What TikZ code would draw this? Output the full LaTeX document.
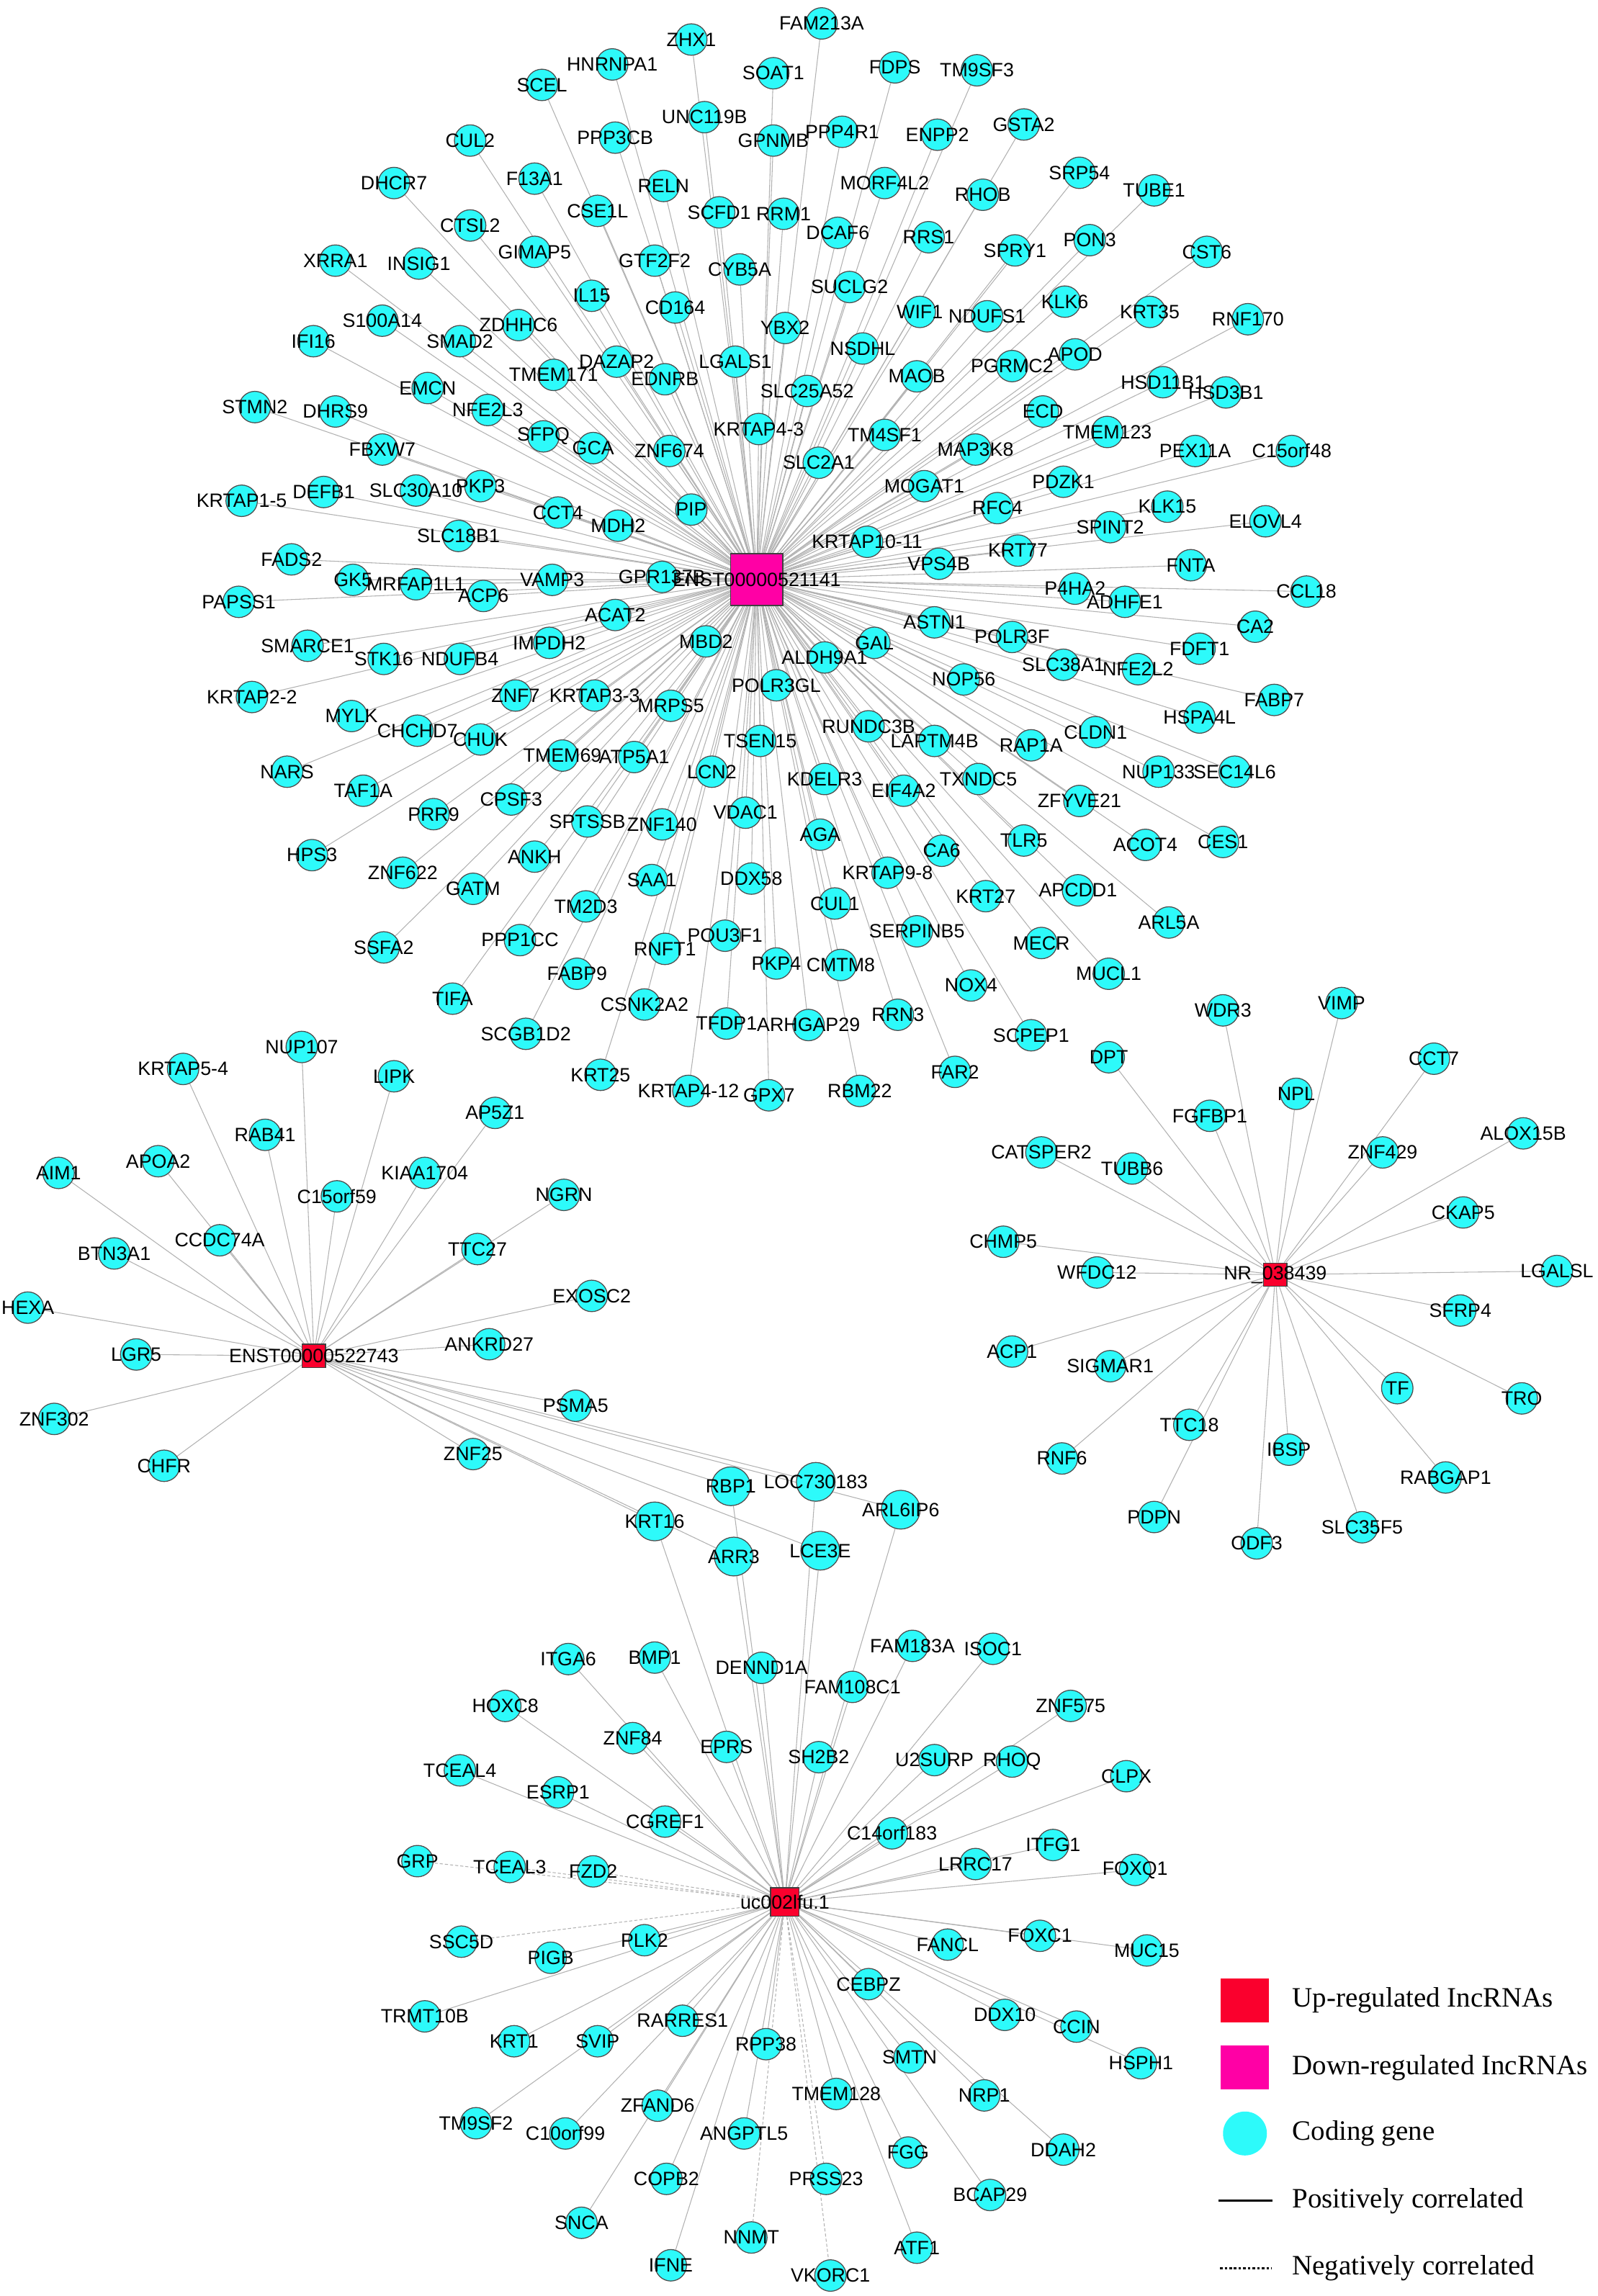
\documentclass[tikz,border=0pt]{standalone}
\usepackage{fontspec}
\setmainfont{Liberation Sans}
\newfontfamily\legendfont{Liberation Serif}
\usepackage{tikz}
\usetikzlibrary{backgrounds}
\definecolor{genecyan}{RGB}{45,250,250}
\definecolor{downpink}{RGB}{255,0,165}
\definecolor{upred}{RGB}{250,0,45}
\newcommand{\genefont}{\fontsize{7.5}{9}\selectfont}
\tikzset{
  genenode/.style={
    circle, draw=black!70, line width=0.35pt,
    fill=genecyan, minimum size=0.43cm, inner sep=0pt
  },
  sharednode/.style={genenode, minimum size=0.53cm},
  genelabel/.style={font=\genefont, text=black, inner sep=0pt},
  lncnode/.style={
    rectangle, draw=black!75, line width=0.35pt,
    fill=#1, inner sep=0pt
  },
  corrline/.style={draw=gray!60, line width=0.3pt},
  negline/.style={corrline, dash pattern=on 1.2pt off 0.8pt},
  legendtext/.style={
    font=\legendfont\fontsize{10.9}{13}\selectfont,
    anchor=west, inner sep=0pt
  },
}

\begin{document}
\begin{tikzpicture}[x=0.02cm, y=-0.02cm]
    \useasboundingbox (0,0) rectangle (1091,1568);

    % down-regulated hub and its partners
    \def\topgenes{ZHX1/472/27, HNRNPA1/418/44, SCEL/370/58, UNC119B/481/80,
      PPP3CB/420/94, CUL2/321/96, DHCR7/269/125, F13A1/365/122, RELN/453/127,
      CSE1L/408/144, SCFD1/491/145, CTSL2/321/154, GIMAP5/365/172,
      GTF2F2/447/178, CYB5A/505/184, XRRA1/229/178, INSIG1/286/180,
      IL15/404/202, CD164/461/210, S100A14/261/219, ZDHHC6/354/222,
      IFI16/214/233, SMAD2/314/233, DAZAP2/421/247, LGALS1/502/247,
      TMEM171/378/256, EDNRB/454/259, EMCN/292/265, STMN2/174/278,
      DHRS9/229/281, NFE2L3/333/280, SFPQ/371/298, GCA/405/306,
      ZNF674/457/308, KRTAP4-3/518/293, FBXW7/261/307, KRTAP1-5/165/342,
      DEFB1/221/336, SLC30A10/284/335, PKP3/328/332, CCT4/381/350,
      MDH2/422/359, PIP/472/348, SLC18B1/313/366, FADS2/199/382,
      FAM213A/561/16, SOAT1/528/50, FDPS/611/46, TM9SF3/667/48,
      GPNMB/528/96, PPP4R1/575/90, ENPP2/640/92, GSTA2/699/85,
      MORF4L2/604/125, RHOB/671/133, SRP54/737/118, TUBE1/788/130,
      RRM1/535/146, DCAF6/572/159, RRS1/634/162, SPRY1/693/171,
      PON3/744/164, CST6/824/172, SUCLG2/580/196, WIF1/628/213,
      NDUFS1/674/216, KLK6/727/206, KRT35/785/213, RNF170/852/218,
      YBX2/536/224, NSDHL/589/238, APOD/734/242, PGRMC2/691/250,
      MAOB/626/257, HSD11B1/794/261, HSD3B1/837/268, SLC25A52/551/267,
      ECD/712/281, TMEM123/756/295, TM4SF1/604/297, PEX11A/816/308,
      C15orf48/882/308, MAP3K8/666/307, SLC2A1/559/316, MOGAT1/631/332,
      PDZK1/726/329, RFC4/681/347, KLK15/797/346, ELOVL4/864/356,
      SPINT2/758/360, KRTAP10-11/592/370, KRT77/695/376, VPS4B/641/385,
      FNTA/813/386, VAMP3/377/396, GPR137B/452/394, GK5/241/396,
      MRFAP1L1/284/399, ACP6/330/407, PAPSS1/163/411, ACAT2/420/420,
      MBD2/482/438, SMARCE1/210/441, IMPDH2/375/439, STK16/262/450,
      NDUFB4/314/450, KRTAP2-2/172/476, ZNF7/352/475, KRTAP3-3/406/475,
      MRPS5/458/482, MYLK/240/489, CHCHD7/285/499, CHUK/328/505,
      TMEM69/384/516, ATP5A1/433/517, LCN2/486/527, NARS/196/527,
      TAF1A/248/540, PRR9/296/556, CPSF3/349/546, SPTSSB/401/561,
      ZNF140/452/563, VDAC1/509/555, HPS3/213/584, ZNF622/275/596,
      ANKH/365/585, GATM/323/607, SAA1/445/601, DDX58/513/600,
      TM2D3/400/619, SSFA2/262/647, PPP1CC/355/642, RNFT1/454/648,
      POU3F1/495/639, FABP9/394/665, TIFA/309/682, CSNK2A2/440/686,
      SCGB1D2/359/706, TFDP1/496/699, KRT25/410/734, KRTAP4-12/470/745,
      CCL18/892/404, P4HA2/734/402, ADHFE1/768/411, CA2/857/428,
      ASTN1/638/425, GAL/597/439, POLR3F/691/435, FDFT1/819/443,
      ALDH9A1/563/449, SLC38A1/726/454, NFE2L2/777/457, POLR3GL/530/468,
      NOP56/658/464, FABP7/870/478, HSPA4L/819/490, RUNDC3B/593/496,
      CLDN1/748/500, TSEN15/519/506, LAPTM4B/638/506, RAP1A/704/509,
      NUP133/791/527, SEC14L6/843/527, KDELR3/563/532, EIF4A2/617/540,
      TXNDC5/668/532, ZFYVE21/737/547, AGA/560/570, TLR5/699/574,
      ACOT4/782/577, CES1/835/575, CA6/643/581, KRTAP9-8/606/596,
      KRT27/673/612, APCDD1/736/608, CUL1/570/617, ARL5A/798/630,
      SERPINB5/626/636, MECR/711/644, PKP4/530/658, CMTM8/574/659,
      MUCL1/757/665, NOX4/663/673, ARHGAP29/552/700, RRN3/613/693,
      SCPEP1/704/707, FAR2/652/732, GPX7/525/748, RBM22/587/745}

    % up-regulated hubs and their partners
    \def\leftgenes{NUP107/206/715, KRTAP5-4/125/730, LIPK/269/735,
      AP5Z1/338/760, RAB41/181/775, AIM1/40/801, APOA2/108/793,
      KIAA1704/290/801, C15orf59/230/817, NGRN/385/816, CCDC74A/150/847,
      BTN3A1/78/856, TTC27/326/853, EXOSC2/404/885, HEXA/19/893,
      LGR5/93/925, ANKRD27/334/918, PSMA5/393/960, ZNF302/37/969,
      ZNF25/323/993, CHFR/112/1001}
    \def\sharedgenes{RBP1/499/1015, LOC730183/557/1012, ARL6IP6/615/1031,
      KRT16/447/1039, ARR3/501/1063, LCE3E/560/1059}
    \def\rightgenes{WDR3/835/690, VIMP/916/685, DPT/757/722, CCT7/979/723,
      NPL/885/747, FGFBP1/826/762, ALOX15B/1040/774, CATSPER2/711/787,
      TUBB6/773/798, ZNF429/944/787, CKAP5/999/828, CHMP5/685/848,
      WFDC12/749/869, LGALSL/1063/868, SFRP4/997/895, ACP1/691/923,
      SIGMAR1/758/933, TF/954/948, TRO/1039/955, TTC18/812/973,
      IBSP/880/990, RNF6/725/996, RABGAP1/987/1009, PDPN/788/1036,
      SLC35F5/930/1043, ODF3/858/1054}
    \def\bottomgenes{ITGA6/388/1133, BMP1/447/1132, DENND1A/520/1139,
      FAM183A/623/1124, ISOC1/678/1126, FAM108C1/582/1152, HOXC8/345/1165,
      ZNF84/432/1187, EPRS/496/1193, SH2B2/559/1200, U2SURP/638/1202,
      RHOQ/691/1203, ZNF575/731/1165, CLPX/769/1213, TCEAL4/314/1209,
      ESRP1/381/1224, CGREF1/454/1244, C14orf183/609/1252, ITFG1/719/1260,
      LRRC17/666/1273, FOXQ1/775/1277, PIGB/376/1337, PLK2/440/1325,
      FANCL/647/1328, FOXC1/710/1322, MUC15/783/1332, TRMT10B/290/1377,
      KRT1/351/1394, SVIP/408/1394, RARRES1/466/1380, RPP38/523/1396,
      CEBPZ/593/1355, DDX10/686/1376, CCIN/735/1384, HSPH1/779/1409,
      SMTN/621/1405, NRP1/672/1431, TMEM128/571/1430, TM9SF2/325/1450,
      C10orf99/386/1457, ZFAND6/449/1438, ANGPTL5/508/1457, DDAH2/726/1468,
      FGG/620/1470, BCAP29/676/1499, COPB2/455/1488, SNCA/397/1518,
      IFNE/458/1547, ATF1/626/1535}
    \def\bottomneg{GRP/285/1271, TCEAL3/348/1275, FZD2/405/1278,
      SSC5D/315/1326, PRSS23/564/1488, NNMT/513/1528, VKORC1/567/1554}

    % gene circles
    \foreach \n/\x/\y in \topgenes
      \node[genenode] (\n) at (\x,\y) {};
    \foreach \n/\x/\y in \leftgenes
      \node[genenode] (\n) at (\x,\y) {};
    \foreach \n/\x/\y in \sharedgenes
      \node[sharednode] (\n) at (\x,\y) {};
    \foreach \n/\x/\y in \rightgenes
      \node[genenode] (\n) at (\x,\y) {};
    \foreach \n/\x/\y in \bottomgenes
      \node[genenode] (\n) at (\x,\y) {};
    \foreach \n/\x/\y in \bottomneg
      \node[genenode] (\n) at (\x,\y) {};

    % lncRNA hubs
    \node[lncnode=downpink, minimum size=0.71cm] (hubA) at (516.7,395.8) {};
    \node[lncnode=upred, minimum size=0.32cm] (hubB) at (214.3,926) {};
    \node[lncnode=upred, minimum size=0.32cm] (hubC) at (870.7,870.5) {};
    \node[lncnode=upred, minimum size=0.39cm] (hubD) at (535.9,1299) {};

    % correlation edges
    \begin{scope}[on background layer]
      \foreach \n/\x/\y in \topgenes
        \draw[corrline] (hubA) -- (\n);
      \foreach \n/\x/\y in \leftgenes
        \draw[corrline] (hubB) -- (\n);
      \foreach \n/\x/\y in \sharedgenes {
        \draw[corrline] (hubB) -- (\n);
        \draw[corrline] (hubD) -- (\n);
      }
      \foreach \n/\x/\y in \rightgenes
        \draw[corrline] (hubC) -- (\n);
      \foreach \n/\x/\y in \bottomgenes
        \draw[corrline] (hubD) -- (\n);
      \foreach \n/\x/\y in \bottomneg
        \draw[negline] (hubD) -- (\n);
    \end{scope}

    % labels on top
    \foreach \n/\x/\y in \topgenes
      \node[genelabel] (t-\n) at (\n) {\n};
    \foreach \n/\x/\y in \leftgenes
      \node[genelabel] (t-\n) at (\n) {\n};
    \foreach \n/\x/\y in \sharedgenes
      \node[genelabel] (t-\n) at (\n) {\n};
    \foreach \n/\x/\y in \rightgenes
      \node[genelabel] (t-\n) at (\n) {\n};
    \foreach \n/\x/\y in \bottomgenes
      \node[genelabel] (t-\n) at (\n) {\n};
    \foreach \n/\x/\y in \bottomneg
      \node[genelabel] (t-\n) at (\n) {\n};
    \node[genelabel] (t-hubA) at (hubA) {ENST00000521141};
    \node[genelabel] (t-hubB) at (hubB) {ENST00000522743};
    \node[genelabel] (t-hubC) at (hubC) {NR\_038439};
    \node[genelabel] (t-hubD) at (hubD) {uc002lfu.1};

    % legend
    \node[lncnode=upred, draw=none, minimum width=0.66cm, minimum height=0.6cm]
         (legup) at (850,1366) {};
    \node[legendtext] (legupt) at (882,1366) {Up-regulated IncRNAs};
    \node[lncnode=downpink, draw=none, minimum width=0.66cm, minimum height=0.6cm]
         (legdown) at (850,1412) {};
    \node[legendtext] (legdownt) at (882,1412) {Down-regulated IncRNAs};
    \node[circle, fill=genecyan, minimum size=0.6cm, inner sep=0pt]
         (leggene) at (850,1457) {};
    \node[legendtext] (leggenet) at (882,1457) {Coding gene};
    \coordinate (legpos1) at (832,1503);
    \coordinate (legpos2) at (869,1503);
    \draw[line width=0.8pt] (legpos1) -- (legpos2);
    \node[legendtext] (legpost) at (882,1503) {Positively correlated};
    \coordinate (legneg1) at (833,1549);
    \coordinate (legneg2) at (868,1549);
    \draw[line width=0.8pt, dash pattern=on 1pt off 0.8pt] (legneg1) -- (legneg2);
    \node[legendtext] (legnegt) at (882,1549) {Negatively correlated};

  \end{tikzpicture}
\end{document}
